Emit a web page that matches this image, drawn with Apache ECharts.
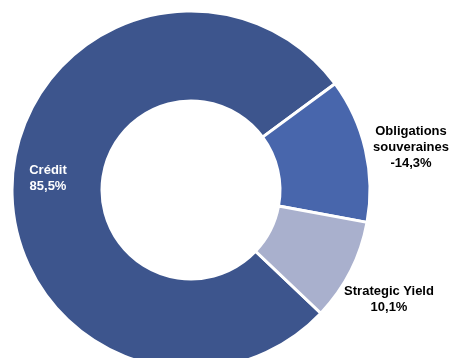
<!DOCTYPE html>
<html>
<head>
<meta charset="utf-8">
<script src="https://cdn.jsdelivr.net/npm/echarts@6/dist/echarts.min.js"></script>
<style>
  html, body { margin: 0; padding: 0; background: #fff; }
  #chart { width: 451px; height: 358px; }
</style>
</head>
<body>
<div id="chart"></div>
<script>
const categories = ['Crédit', 'Obligations\nsouveraines', 'Strategic Yield']
const weights = [85.5, -14.3, 10.1]
const colors = ['#3d558d', '#4866ac', '#a9b0cd']
const labelColors = ['#ffffff', '#000000', '#000000']
// where each label sits (px), the picture puts them by hand
const labelSpots = [[48, 178], [411, 147], [389, 299]]

const fmt = v => v.toFixed(1).replace('.', ',') + '%'

const data = categories.map((name, i) => ({
    name: name,
    value: Math.abs(weights[i]),
    signed: weights[i],
    itemStyle: { color: colors[i] },
    label: { color: labelColors[i] }
}))

const option = {
    animation: false,
    series: [{
        type: 'pie',
        center: [191, 190],
        radius: [89, 179],
        startAngle: 316.5,
        clockwise: true,
        itemStyle: { borderColor: '#fff', borderWidth: 3 },
        label: {
            show: true,
            position: 'inside',
            fontFamily: 'Liberation Sans, Arial, sans-serif',
            fontWeight: 'bold',
            fontSize: 13,
            lineHeight: 16,
            align: 'center',
            formatter: p => p.name + '\n' + fmt(p.data.signed)
        },
        labelLine: { show: false },
        labelLayout: p => ({
            x: labelSpots[p.dataIndex][0],
            y: labelSpots[p.dataIndex][1],
            align: 'center',
            verticalAlign: 'middle'
        }),
        data: data
    }]
}

const mychart = echarts.init(document.getElementById('chart'))
mychart.setOption(option)
</script>
</body>
</html>
